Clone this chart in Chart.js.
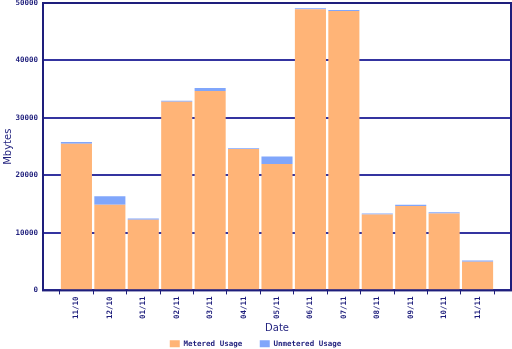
<!DOCTYPE html>
<html>
<head>
<meta charset="utf-8">
<script src="https://cdn.jsdelivr.net/npm/chart.js@4"></script>
<style>
  html, body { margin: 0; padding: 0; background: #ffffff; }
  #wrap { width: 512px; height: 349px; }
</style>
</head>
<body>
<div id="wrap"><canvas id="usage" width="512" height="349"></canvas></div>
<script>
// Monthly traffic, in megabytes
const months = ['11/10', '12/10', '01/11', '02/11', '03/11', '04/11', '05/11',
                '06/11', '07/11', '08/11', '09/11', '10/11', '11/11'];
const metered   = [25500, 14900, 12300, 32800, 34700, 24600, 22000,
                   48900, 48600, 13200, 14700, 13400, 5000];
const unmetered = [300, 1500, 200, 200, 500, 150, 1300,
                   200, 200, 200, 200, 200, 200];
const yTicks = [0, 10000, 20000, 30000, 40000, 50000];

const NAVY = '#1e1e7c';
const GRID = '#3434a0';
const monoBold = { family: 'DejaVu Sans Mono', size: 7.5, weight: 'bold' };

// Box round the plot area
const frame = {
  id: 'frame',
  afterDraw(chart) {
    const a = chart.chartArea, c = chart.ctx;
    c.save();
    c.strokeStyle = NAVY;
    c.lineWidth = 2;
    c.strokeRect(a.left, a.top, a.right - a.left, a.bottom - a.top);
    c.restore();
  }
};

const pts = arr => arr.map((v, i) => ({ x: i, y: v }));

new Chart(document.getElementById('usage'), {
  type: 'bar',
  data: {
    datasets: [
      { label: 'Metered Usage', data: pts(metered), backgroundColor: '#ffb477',
        barPercentage: 0.93, categoryPercentage: 1.0 },
      { label: 'Unmetered Usage', data: pts(unmetered), backgroundColor: '#80a6fb',
        barPercentage: 0.93, categoryPercentage: 1.0 }
    ]
  },
  options: {
    responsive: false,
    animation: false,
    layout: { padding: { top: 0, right: 1, left: 0, bottom: 0 } },
    plugins: {
      tooltip: { enabled: false },
      legend: {
        position: 'bottom',
        maxHeight: 13,
        labels: {
          font: monoBold, color: NAVY,
          boxWidth: 10, boxHeight: 7, padding: 4,
          // wider gap between the two entries
          generateLabels(chart) {
            const items = Chart.defaults.plugins.legend.labels.generateLabels(chart);
            items.forEach((it, i) => { if (i < items.length - 1) it.text += '   '; });
            return items;
          }
        }
      }
    },
    scales: {
      x: {
        type: 'linear',
        stacked: true,
        offset: false,
        min: -1, max: 13,
        afterBuildTicks(scale) {
          scale.ticks = months.map((m, i) => ({ value: i }));
        },
        ticks: {
          autoSkip: false,
          minRotation: 90, maxRotation: 90,
          padding: 2,
          font: monoBold, color: NAVY,
          callback: v => months[v] ?? ''
        },
        grid: { drawOnChartArea: false, drawTicks: true, tickLength: 4, color: NAVY, lineWidth: 1 },
        border: { display: false },
        title: { display: true, text: 'Date', color: NAVY,
                 font: { family: 'DejaVu Sans', size: 10 }, padding: { top: 1, bottom: 2 } }
      },
      y: {
        stacked: true,
        min: 0, max: 50000,
        afterBuildTicks(scale) {
          scale.ticks = yTicks.map(v => ({ value: v }));
        },
        afterFit(scale) {
          scale.width = 43;
          scale.paddingTop = 3;
          scale.paddingBottom = 0;
        },
        ticks: { padding: 5, font: monoBold, color: NAVY, callback: v => String(v) },
        grid: { drawTicks: false, color: GRID, lineWidth: 2 },
        border: { display: false },
        title: { display: true, text: 'Mbytes', color: NAVY,
                 font: { family: 'DejaVu Sans', size: 10 }, padding: { top: 2, bottom: 0 } }
      }
    }
  },
  plugins: [frame]
});
</script>
</body>
</html>
